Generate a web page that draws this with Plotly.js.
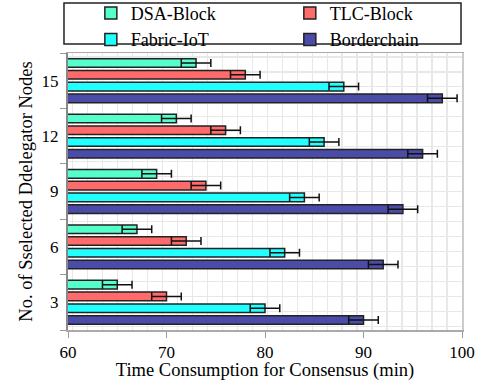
<!DOCTYPE html>
<html>
<head>
<meta charset="utf-8">
<script src="https://cdn.plot.ly/plotly-3.0.1.min.js"></script>
<style>html,body{margin:0;padding:0;background:#fff;}#chart{width:483px;height:381px;}</style>
</head>
<body>
<div id="chart"></div>
<script>
const categories = ["3", "6", "9", "12", "15"];
const seriesNames = ["DSA-Block", "TLC-Block", "Fabric-IoT", "Borderchain"];
const dsaBlock = [65, 67, 69, 71, 73];
const tlcBlock = [70, 72, 74, 76, 78];
const fabricIoT = [80, 82, 84, 86, 88];
const borderchain = [90, 92, 94, 96, 98];
const errDsa = [1.5, 1.5, 1.5, 1.5, 1.5];
const errTlc = [1.5, 1.5, 1.5, 1.5, 1.5];
const errFabric = [1.5, 1.5, 1.5, 1.5, 1.5];
const errBorder = [1.5, 1.5, 1.5, 1.5, 1.5];
const xTicks = [60, 70, 80, 90, 100];

const colors = ["#55FFCC", "#FF6A6A", "#22FFFF", "#4B4BA8"];
const fontFamily = "Liberation Serif";

function barTrace(name, vals, errs, color, legend) {
  return {
    type: "bar", orientation: "h", name: name, legend: legend,
    x: vals, y: categories,
    marker: {color: color, line: {color: "#222", width: 1.5}},
    error_x: {type: "data", array: errs, visible: true, color: "#111", thickness: 1.5, width: 4}
  };
}

const data = [
  barTrace(seriesNames[3], borderchain, errBorder, colors[3], "legend2"),
  barTrace(seriesNames[2], fabricIoT, errFabric, colors[2], "legend"),
  barTrace(seriesNames[1], tlcBlock, errTlc, colors[1], "legend2"),
  barTrace(seriesNames[0], dsaBlock, errDsa, colors[0], "legend"),
  {type: "scatter", x: [], y: [], xaxis: "x", yaxis: "y2", showlegend: false, hoverinfo: "skip"}
];

const legendCommon = {
  orientation: "v", traceorder: "reversed",
  y: 1.21, yanchor: "top",
  bgcolor: "rgba(0,0,0,0)", borderwidth: 0,
  font: {family: fontFamily, size: 18, color: "#000"},
  tracegroupgap: 0
};

const layout = {
  width: 483, height: 381,
  margin: {l: 68, r: 21, t: 53, b: 51, autoexpand: false},
  paper_bgcolor: "#fff", plot_bgcolor: "#fff",
  font: {family: fontFamily, color: "#000", size: 17},
  barmode: "group", bargap: 0.15, bargroupgap: 0.27,
  showlegend: true,
  legend: Object.assign({}, legendCommon, {x: 0.058, xanchor: "left"}),
  legend2: Object.assign({}, legendCommon, {x: 0.563, xanchor: "left"}),
  xaxis: {
    range: [60, 100], tickvals: xTicks, ticks: "outside", ticklen: 6, tickcolor: "#999",
    showline: true, linecolor: "#aaa", linewidth: 1.5, mirror: true,
    showgrid: false, zeroline: false,
    tickfont: {family: fontFamily, size: 17},
    minor: {tick0: 62, dtick: 1.52, showgrid: true, gridcolor: "#e8e8e8", gridwidth: 1.5, ticks: ""},
    title: {text: "Time Consumption for Consensus (min)", font: {family: fontFamily, size: 18.5}, standoff: 0}
  },
  yaxis: {
    type: "category", categoryorder: "array", categoryarray: categories,
    tickson: "boundaries", ticks: "outside", ticklen: 6, tickcolor: "#999",
    ticklabelstandoff: 4,
    showline: true, linecolor: "#888", linewidth: 2,
    showgrid: false, zeroline: false,
    tickfont: {family: fontFamily, size: 17},
    title: {text: "No. of Sselected Ddelegator Nodes", font: {family: fontFamily, size: 18.5}, standoff: 4}
  },
  yaxis2: {
    overlaying: "y", side: "right", range: [0, 18.47], autorange: false,
    tick0: 0.22, dtick: 1, showgrid: true, gridcolor: "#e8e8e8", gridwidth: 1.5,
    showticklabels: false, ticks: "", zeroline: false,
    showline: true, linecolor: "#ccc", linewidth: 1.5
  },
  shapes: [{
    type: "rect", xref: "paper", yref: "paper",
    x0: -0.0102, x1: 0.9975, y0: 1.0325, y1: 1.1805,
    line: {color: "#222", width: 1.5}, fillcolor: "rgba(0,0,0,0)"
  }]
};

Plotly.newPlot("chart", data, layout, {displayModeBar: false, staticPlot: true});
</script>
</body>
</html>
